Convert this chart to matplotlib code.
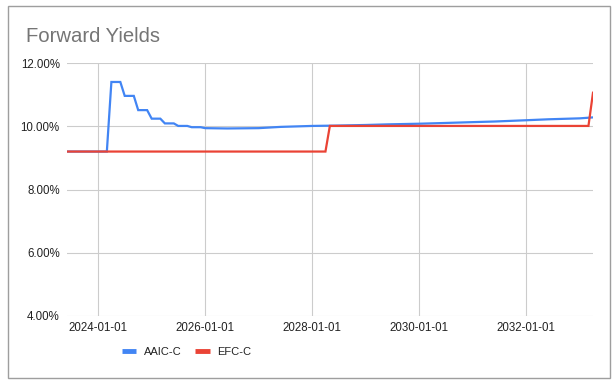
import matplotlib
matplotlib.use("Agg")
import matplotlib.pyplot as plt
from matplotlib.lines import Line2D
from matplotlib.patches import Rectangle
import numpy as np

plt.rcParams['font.family'] = ['Liberation Sans', 'DejaVu Sans']

title = "Forward Yields"
series_names = ["AAIC-C", "EFC-C"]

aaic_dates = ["2023-06-01", "2024-03-01", "2024-04-01", "2024-06-01", "2024-07-01",
              "2024-09-01", "2024-10-01", "2024-12-01", "2025-01-01", "2025-03-01",
              "2025-04-01", "2025-06-01", "2025-07-01", "2025-09-01", "2025-10-01",
              "2025-12-01", "2026-01-01", "2026-06-01", "2027-01-01", "2027-06-01",
              "2028-01-01", "2028-06-01", "2029-01-01", "2029-06-01", "2030-01-01",
              "2030-06-01", "2031-01-01", "2031-06-01", "2032-01-01", "2032-06-01",
              "2033-01-01", "2033-04-01"]
aaic_values = [9.20, 9.20, 11.40, 11.40, 10.96, 10.96, 10.51, 10.51, 10.24, 10.24,
               10.09, 10.09, 10.01, 10.01, 9.97, 9.97, 9.94, 9.93, 9.94, 9.98,
               10.01, 10.02, 10.04, 10.06, 10.08, 10.10, 10.13, 10.15, 10.19, 10.22,
               10.25, 10.28]

efc_dates = ["2023-06-01", "2028-04-01", "2028-05-01", "2033-03-01", "2033-04-01"]
efc_values = [9.20, 9.20, 10.01, 10.01, 11.06]

x_ticks = ["2024-01-01", "2026-01-01", "2028-01-01", "2030-01-01", "2032-01-01"]
y_ticks = [4, 6, 8, 10, 12]

W, H = 615, 384
fig = plt.figure(figsize=(W / 100, H / 100), dpi=100)
fig.patch.set_facecolor("white")

# outer border
fig.add_artist(Rectangle((8 / W, 1 - 378 / H), (610 - 8) / W, (378 - 6) / H,
                         transform=fig.transFigure, fill=False,
                         edgecolor="#9e9e9e", linewidth=1))

ax = fig.add_axes([66.7 / W, 1 - 316 / H, (593 - 66.7) / W, (316 - 63) / H])

ad = np.array(aaic_dates, dtype="datetime64[D]")
ed = np.array(efc_dates, dtype="datetime64[D]")

ax.plot(ad, aaic_values, color="#4285F4", lw=1.6, zorder=3, solid_joinstyle="miter")
ax.plot(ed, efc_values, color="#EA4335", lw=1.6, zorder=4, solid_joinstyle="miter")

ax.set_xlim(np.datetime64(aaic_dates[0]), np.datetime64(aaic_dates[-1]))
ax.set_ylim(4, 12)
ax.set_yticks(y_ticks)
ax.set_yticklabels([f"{v:.2f}%" for v in y_ticks])
xt = np.array(x_ticks, dtype="datetime64[D]")
ax.set_xticks(xt)
ax.set_xticklabels(x_ticks)

for s in ax.spines.values():
    s.set_visible(False)
ax.grid(True, color="#cccccc", lw=0.8, zorder=0)
ax.tick_params(axis="both", length=0, labelsize=8.3, colors="#222222")
ax.tick_params(axis="y", pad=5)
ax.tick_params(axis="x", pad=4)

fig.text(26 / W, 1 - 42 / H, title, fontsize=14.6, color="#757575",
         ha="left", va="baseline")

handles = [Line2D([], [], color="#4285F4", lw=3.5, solid_capstyle="butt"),
           Line2D([], [], color="#EA4335", lw=3.5, solid_capstyle="butt")]
fig.legend(handles, series_names, loc="center left",
           bbox_to_anchor=(122 / W, 1 - 352 / H), ncol=2, frameon=False,
           fontsize=8.0, handlelength=1.3, handletextpad=0.7,
           columnspacing=1.2, borderpad=0, borderaxespad=0,
           labelcolor="#222222")

fig.savefig("out.png", dpi=100, facecolor="white")
